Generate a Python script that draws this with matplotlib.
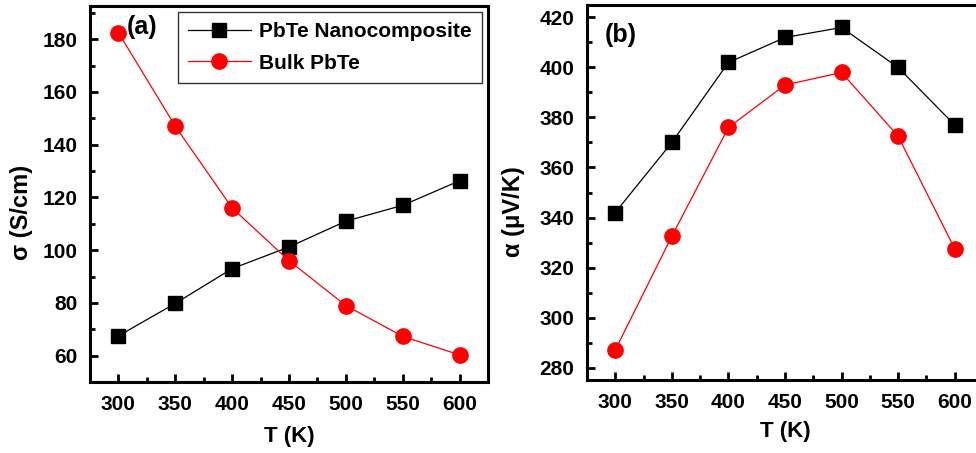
import matplotlib

matplotlib.use("Agg")
import matplotlib.pyplot as plt
from matplotlib.ticker import MultipleLocator

plt.rcParams["font.family"] = ["Liberation Sans", "DejaVu Sans"]
plt.rcParams["font.weight"] = "bold"

TEMPS = [300, 350, 400, 450, 500, 550, 600]
SIGMA_NANO = [67.5, 79.8, 93.0, 101.2, 111.0, 117.0, 126.3]
SIGMA_BULK = [182.5, 147.0, 116.0, 96.0, 79.0, 67.3, 60.3]
ALPHA_NANO = [342.0, 370.0, 402.0, 412.0, 416.0, 400.0, 377.0]
ALPHA_BULK = [287.0, 332.5, 376.0, 393.0, 398.0, 372.5, 327.5]
LABELS = ["PbTe Nanocomposite", "Bulk PbTe"]


def style_axis(ax, ymajor, yminor, xpad):
    ax.set_xlim(275, 625)
    ax.xaxis.set_major_locator(MultipleLocator(50))
    ax.xaxis.set_minor_locator(MultipleLocator(25))
    ax.yaxis.set_major_locator(MultipleLocator(ymajor))
    ax.yaxis.set_minor_locator(MultipleLocator(yminor))
    ax.tick_params(which="both", direction="in", width=2, labelsize=15, pad=9)
    ax.tick_params(which="major", length=6)
    ax.tick_params(which="minor", length=3.5)
    for spine in ax.spines.values():
        spine.set_linewidth(2.2)
    ax.set_xlabel("T (K)", fontsize=16, fontweight="bold", labelpad=xpad)


fig = plt.figure(figsize=(9.76, 4.53), dpi=100)
ax1 = fig.add_axes([0.0922, 0.1567, 0.4078, 0.8301])
ax2 = fig.add_axes([0.6014, 0.1611, 0.4058, 0.8279])

ax1.plot(TEMPS, SIGMA_NANO, color="black", lw=0.9, marker="s", ms=10, label=LABELS[0])
ax1.plot(TEMPS, SIGMA_BULK, color="red", lw=0.9, marker="o", ms=11, label=LABELS[1])
ax1.set_ylim(50, 192.6)
style_axis(ax1, 20, 10, 9)
ax1.set_ylabel("σ (S/cm)", fontsize=17, fontweight="bold")
ax1.yaxis.set_label_coords(-0.143, 0.45)
ax1.text(0.093, 0.944, "(a)", transform=ax1.transAxes, fontsize=18, fontweight="bold", va="center")
leg = ax1.legend(loc="upper right", bbox_to_anchor=(0.985, 0.985), borderaxespad=0, fontsize=15,
                 frameon=True, fancybox=False, edgecolor="black", handlelength=3.0,
                 handletextpad=0.4, borderpad=0.5, labelspacing=0.6)
leg.get_frame().set_linewidth(1.0)

ax2.plot(TEMPS, ALPHA_NANO, color="black", lw=0.9, marker="s", ms=10)
ax2.plot(TEMPS, ALPHA_BULK, color="red", lw=0.9, marker="o", ms=11)
ax2.set_ylim(275, 425)
style_axis(ax2, 20, 10, 7)
ax2.set_ylabel("α (μV/K)", fontsize=17, fontweight="bold")
ax2.yaxis.set_label_coords(-0.157, 0.448)
ax2.text(0.045, 0.92, "(b)", transform=ax2.transAxes, fontsize=18, fontweight="bold", va="center")

fig.savefig("out.png", dpi=100)
